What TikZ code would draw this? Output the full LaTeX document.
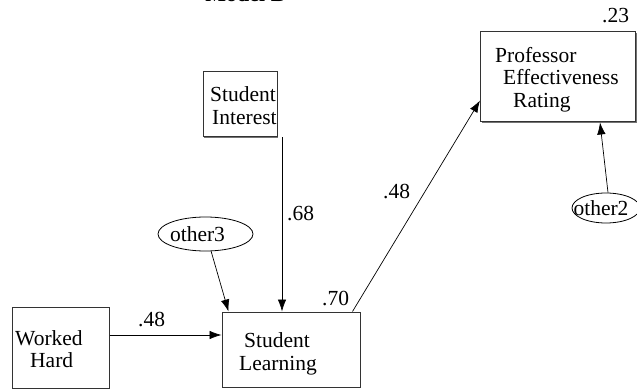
\documentclass[tikz,border=0pt]{standalone}
\usepackage{fontspec}
\newfontfamily\diagfont{LiberationSerif}[Extension=.ttf, UprightFont=*-Regular, BoldFont=*-Bold]
\usetikzlibrary{arrows.meta,calc,shadows,shapes.geometric}
\begin{document}
\begin{tikzpicture}[x=1pt,y=-1pt,
  every node/.style={font=\diagfont\fontsize{21.5}{24}\selectfont, inner sep=0pt},
  var/.style={draw=black!80, line width=1pt, fill=white, rectangle,
    drop shadow={shadow xshift=1.3pt, shadow yshift=-1.3pt, fill=black!55, opacity=1}},
  err/.style={draw, line width=0.8pt, ellipse},
  txt/.style={anchor=base west},
  coef/.style={anchor=base west},
  arr/.style={-{Latex[length=12pt,width=8.5pt]}, line width=0.7pt}]
\useasboundingbox (0,0) rectangle (637,390);

% title, mostly above the page edge
\node[anchor=base, font=\diagfont\bfseries\fontsize{22}{24}\selectfont] (title) at (245.5,1.5) {Model B};

% observed variables
\node[var, minimum width=155pt, minimum height=90pt] (per) at (558,77) {};
\node[var, minimum width=74pt, minimum height=65pt] (si) at (240,104.5) {};
\node[var, minimum width=138pt, minimum height=75pt] (sl) at (291,349.5) {};
\node[var, minimum width=97pt, minimum height=81pt] (wh) at (60.5,347.5) {};

% box labels
\node[txt] (perA) at (495,63) {Professor};
\node[txt] (perB) at (503,85) {Effectiveness};
\node[txt] (perC) at (513,108) {Rating};
\node[txt] (siA) at (210,102) {Student};
\node[txt] (siB) at (212,125) {Interest};
\node[txt] (slA) at (244,347) {Student};
\node[txt] (slB) at (239,370) {Learning};
\node[txt] (whA) at (15,345) {Worked};
\node[txt] (whB) at (30,367) {Hard};

% error terms
\node[err, minimum width=95pt, minimum height=34pt] (o3) at (205.5,234) {};
\node (o3t) at (197.5,234) {other3};
\node[err, minimum width=68pt, minimum height=30pt] (o2) at (606,208) {};
\node (o2t) at (601,208) {other2};

% paths
\draw[arr] (wh.east |- 0,335) coordinate (whx) -- (sl.west |- whx);
\draw[arr] (si.south -| 282,0) coordinate (six) -- (sl.north -| six);
\draw[arr] (o3.-72) -- ($(sl.north west)+(7,0)$);
\draw[arr] ($(sl.north west)+(131,0)$) -- ($(per.south west)+(0,-22)$);
\draw[arr] (o2.north) ++(2,0) coordinate (o2x) -- ($(per.south west)+(120,0)$);

% coefficients
\node[coef] (c1) at (138,326) {.48};
\node[coef] (c2) at (287,221) {.68};
\node[coef] (c3) at (322,305) {.70};
\node[coef] (c4) at (383,199) {.48};
\node[coef] (c5) at (602,23) {.23};
\end{tikzpicture}
\end{document}
